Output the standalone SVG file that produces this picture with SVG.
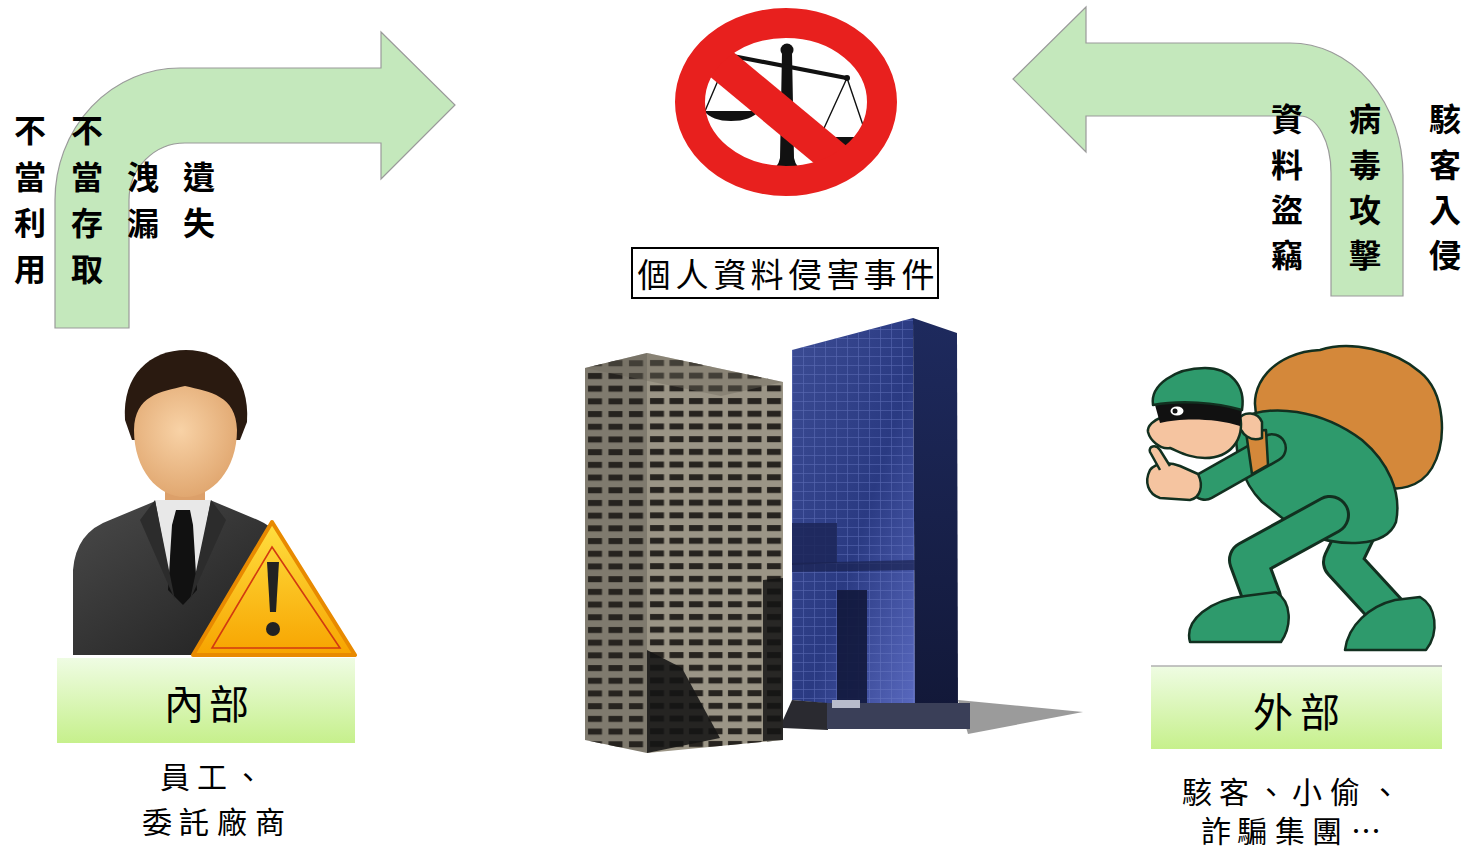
<svg xmlns="http://www.w3.org/2000/svg" width="1466" height="848" viewBox="0 0 1466 848">
  <style>
    .cjk { font-family: 'Noto Sans CJK TC', 'Noto Sans CJK SC', sans-serif; fill: #000; }
    .vcol { font-size: 32px; font-weight: 700; dominant-baseline: central; text-anchor: middle; }
    .cap { font-size: 30px; font-weight: 400; dominant-baseline: central; text-anchor: middle; }
    .big { font-size: 40px; font-weight: 400; dominant-baseline: central; text-anchor: middle; }
    .flow { fill: #c4e8bc; stroke: #9a9a9a; stroke-width: 1.2; }
    .outl { fill: none; stroke: #123020; stroke-linecap: round; stroke-linejoin: round; }
    .grn { fill: none; stroke: #2e9a6c; stroke-linecap: round; stroke-linejoin: round; }
    .ink { stroke: #123020; stroke-width: 2.5; stroke-linejoin: round; }
  </style>
  <defs>
    <linearGradient id="labelFill" x1="0" y1="0" x2="0" y2="1">
      <stop offset="0" stop-color="#effce3"/>
      <stop offset="1" stop-color="#c6f08c"/>
    </linearGradient>
    <linearGradient id="suit" x1="0" y1="0" x2="1" y2="1">
      <stop offset="0" stop-color="#4a4a4a"/>
      <stop offset="1" stop-color="#1e1e1e"/>
    </linearGradient>
    <radialGradient id="skin" cx="0.45" cy="0.4" r="0.65">
      <stop offset="0" stop-color="#f8d2a6"/>
      <stop offset="1" stop-color="#dfa46c"/>
    </radialGradient>
    <linearGradient id="warn" x1="0" y1="0" x2="0" y2="1">
      <stop offset="0" stop-color="#ffdf40"/>
      <stop offset="1" stop-color="#f7a400"/>
    </linearGradient>
    <linearGradient id="blueFront" x1="0" y1="0" x2="1" y2="1">
      <stop offset="0" stop-color="#3c4c94"/>
      <stop offset="0.55" stop-color="#2a3a82"/>
      <stop offset="1" stop-color="#5a6ac0"/>
    </linearGradient>
    <linearGradient id="blueSide" x1="0" y1="0" x2="0" y2="1">
      <stop offset="0" stop-color="#1e2a5e"/>
      <stop offset="1" stop-color="#121838"/>
    </linearGradient>
    <pattern id="winFront" x="647" y="357" width="19.5" height="12.7" patternUnits="userSpaceOnUse">
      <rect x="3" y="3" width="14" height="6" fill="#26231f"/>
    </pattern>
    <pattern id="winSide" x="585" y="370" width="20.5" height="12.7" patternUnits="userSpaceOnUse">
      <rect x="3" y="3" width="14" height="6" fill="#26231f"/>
    </pattern>
    <pattern id="glass" x="792" y="320" width="11" height="9" patternUnits="userSpaceOnUse">
      <path d="M0,0.5 H11 M0.5,0 V9" stroke="#7080c8" stroke-width="0.7" opacity="0.55"/>
    </pattern>
    <clipPath id="ringClip">
      <ellipse cx="786" cy="102" rx="100" ry="83"/>
    </clipPath>
  </defs>

  <rect width="1466" height="848" fill="#ffffff"/>

  <!-- curved flow arrows -->
  <g id="connectors">
    <path class="flow" d="M55,328 L55,200 A125,132 0 0 1 180,68 L381,68 L381,32 L455,105 L381,179 L381,143 L185,143 A56,57 0 0 0 129,200 L129,328 Z"/>
    <path class="flow" d="M1403,296 L1403,175 A113,132 0 0 0 1290,43 L1086,43 L1086,7 L1013,79 L1086,152 L1086,116 L1300,116 A31,57 0 0 1 1331,173 L1331,296 Z"/>
  </g>

  <!-- internal threat labels -->
  <g id="internal-threats" class="cjk vcol">
    <text x="30"><tspan x="30" y="128">不</tspan><tspan x="30" y="175">當</tspan><tspan x="30" y="221">利</tspan><tspan x="30" y="267">用</tspan></text>
    <text x="87"><tspan x="87" y="128">不</tspan><tspan x="87" y="175">當</tspan><tspan x="87" y="221">存</tspan><tspan x="87" y="267">取</tspan></text>
    <text x="143"><tspan x="143" y="175">洩</tspan><tspan x="143" y="221">漏</tspan></text>
    <text x="199"><tspan x="199" y="175">遺</tspan><tspan x="199" y="221">失</tspan></text>
  </g>

  <!-- external threat labels -->
  <g id="external-threats" class="cjk vcol">
    <text x="1287"><tspan x="1287" y="117">資</tspan><tspan x="1287" y="163">料</tspan><tspan x="1287" y="208">盜</tspan><tspan x="1287" y="253">竊</tspan></text>
    <text x="1365"><tspan x="1365" y="117">病</tspan><tspan x="1365" y="163">毒</tspan><tspan x="1365" y="208">攻</tspan><tspan x="1365" y="253">擊</tspan></text>
    <text x="1445"><tspan x="1445" y="117">駭</tspan><tspan x="1445" y="163">客</tspan><tspan x="1445" y="208">入</tspan><tspan x="1445" y="253">侵</tspan></text>
  </g>

  <!-- prohibition sign over scales -->
  <g id="no-justice-sign">
    <g fill="#111">
      <circle cx="787" cy="50" r="6.5"/>
      <path d="M782,52 L792,52 L794,158 Q796,170 808,172 L766,172 Q778,170 780,158 Z"/>
      <path d="M748,185 Q754,172 780,169 L795,169 Q822,172 828,185 Z"/>
      <path d="M728,53 L847,76 L846,80 L727,57 Z"/>
      <circle cx="847" cy="78" r="3"/>
      <path d="M818,137 L869,137 Q861,147 843,147 Q826,147 818,137 Z"/>
      <path d="M704,111 L759,111 Q751,121 731,121 Q712,121 704,111 Z"/>
    </g>
    <g stroke="#111" stroke-width="1.4" fill="none">
      <path d="M847,78 L820,137 M847,78 L867,137"/>
      <path d="M728,57 L705,111 M728,57 L757,111"/>
    </g>
    <line x1="690" y1="38" x2="885" y2="200" stroke="#e8201e" stroke-width="34" clip-path="url(#ringClip)"/>
    <ellipse cx="786" cy="102" rx="96" ry="79" fill="none" stroke="#e8201e" stroke-width="30"/>
  </g>

  <!-- title box -->
  <g id="incident-title">
    <rect x="632" y="248" width="306" height="50" fill="#fff" stroke="#000" stroke-width="2"/>
    <text class="cjk" font-size="33" dominant-baseline="central" text-anchor="middle" x="654 692 730 767 805 843 880 918" y="273">個人資料侵害事件</text>
  </g>

  <!-- office towers -->
  <g id="buildings">
    <polygon points="958,700 1083,712 968,734" fill="#8a8a8a" opacity="0.85"/>
    <!-- grey tower -->
    <polygon points="585,368 647,353 647,753 585,740" fill="#7f7a6e"/>
    <polygon points="585,368 647,353 647,753 585,740" fill="url(#winSide)"/>
    <polygon points="647,353 783,382 783,740 647,753" fill="#9b9586"/>
    <polygon points="647,353 783,382 783,740 647,753" fill="url(#winFront)"/>
    <polygon points="647,650 682,668 720,738 647,753" fill="#141414" opacity="0.88"/>
    <polygon points="763,580 783,578 783,740 763,741" fill="#141414" opacity="0.85"/>
    <polygon points="585,368 647,353 783,382 721,396" fill="#6d685d" opacity="0.4"/>
    <!-- blue tower -->
    <polygon points="792,350 913,318 915,712 792,700" fill="url(#blueFront)"/>
    <polygon points="792,350 913,318 915,712 792,700" fill="url(#glass)"/>
    <polygon points="913,318 957,333 958,710 915,712" fill="url(#blueSide)"/>
    <polygon points="792,523 837,523 837,563 792,565" fill="#1c2658" opacity="0.85"/>
    <polygon points="792,563 915,560 915,570 792,572" fill="#1a2250" opacity="0.7"/>
    <polygon points="837,590 867,590 867,703 837,703" fill="#12183c" opacity="0.9"/>
    <polygon points="792,700 828,703 828,730 783,728 783,720" fill="#2a2a30"/>
    <rect x="827" y="703" width="143" height="26" fill="#3a3f58"/>
    <rect x="832" y="700" width="28" height="8" fill="#b8bccc"/>
  </g>

  <!-- insider figure -->
  <g id="insider">
    <path d="M73,655 L73,570 Q76,532 110,520 L158,500 L210,500 L258,520 Q286,532 292,565 L292,655 Z" fill="url(#suit)"/>
    <rect x="165" y="478" width="40" height="30" fill="#dca06a"/>
    <path d="M155,500 L211,500 L198,570 L183,600 L168,570 Z" fill="#e8e8e8"/>
    <path d="M176,510 L190,510 L193,525 L197,590 L183,605 L168,590 L172,525 Z" fill="#111"/>
    <path d="M155,500 L140,520 L175,600 Z M211,500 L226,520 L190,600 Z" fill="#2c2c2c"/>
    <path d="M125,420 C122,375 150,350 186,350 C222,350 250,375 247,422 L240,440 L132,440 Z" fill="#2a1a10"/>
    <path d="M185,386 C160,392 135,395 134,430 C134,470 158,497 185,497 C212,497 237,470 237,430 C236,395 210,392 185,386 Z" fill="url(#skin)"/>
    <path d="M272,522 L355,655 L193,655 Z" fill="url(#warn)" stroke="#e88a00" stroke-width="4" stroke-linejoin="round"/>
    <path d="M272,547 L340,648 L212,648 Z" fill="none" stroke="#d23a10" stroke-width="1.6"/>
    <path d="M267,562 L279,562 L276,612 L270,612 Z" fill="#222"/>
    <circle cx="273" cy="629" r="7" fill="#222"/>
    <rect x="57" y="658" width="298" height="85" fill="url(#labelFill)"/>
    <text class="cjk big" x="184 229" y="702">內部</text>
  </g>

  <g id="insider-caption" class="cjk cap">
    <text x="175 212 248" y="775">員工、</text>
    <text x="157 194 232 270" y="820">委託廠商</text>
  </g>

  <!-- outsider figure -->
  <g id="outsider">
    <path class="ink" d="M1258,420 C1245,385 1275,352 1320,350 C1350,340 1395,350 1420,372 C1445,392 1448,440 1432,468 C1420,488 1395,492 1385,485 L1300,420 Z" fill="#d4883a"/>
    <!-- far leg -->
    <path class="outl" stroke-width="40" d="M1372,500 L1342,562 L1388,612"/>
    <path class="grn" stroke-width="34" d="M1372,500 L1342,562 L1388,612"/>
    <path class="ink" d="M1345,650 C1348,625 1370,606 1395,600 L1420,597 C1436,606 1440,632 1426,650 Z" fill="#2e9a6c"/>
    <!-- torso -->
    <path class="ink" d="M1238,420 C1270,402 1322,410 1362,440 C1388,462 1402,492 1396,522 C1386,548 1340,548 1300,532 L1262,502 C1242,482 1232,450 1238,420 Z" fill="#2e9a6c"/>
    <!-- near leg -->
    <path class="outl" stroke-width="40" d="M1330,515 L1248,560 L1262,598"/>
    <path class="grn" stroke-width="34" d="M1330,515 L1248,560 L1262,598"/>
    <path class="ink" d="M1190,642 C1184,620 1210,600 1245,596 L1276,592 C1292,602 1292,626 1281,642 Z" fill="#2e9a6c"/>
    <!-- arm -->
    <path class="outl" stroke-width="30" d="M1272,448 L1205,486"/>
    <path class="grn" stroke-width="25" d="M1272,448 L1205,486"/>
    <path class="ink" d="M1150,470 C1156,462 1170,462 1180,466 L1198,474 C1204,486 1200,498 1190,500 L1160,498 C1148,494 1144,482 1150,470 Z" fill="#f5c4a0"/>
    <path class="ink" d="M1160,470 L1150,452 C1148,446 1156,444 1160,450 L1170,466" fill="#f5c4a0"/>
    <!-- sack neck and gripping hand -->
    <path class="ink" d="M1246,432 L1266,430 L1268,465 L1252,474 Z" fill="#d4883a"/>
    <path class="ink" d="M1238,420 C1244,410 1258,412 1262,422 L1262,438 C1252,442 1240,436 1238,420 Z" fill="#f5c4a0"/>
    <!-- head -->
    <path class="ink" d="M1160,410 C1168,400 1235,398 1240,415 C1245,440 1230,458 1205,458 C1190,458 1180,452 1170,448 C1160,450 1150,440 1148,432 C1147,425 1155,420 1160,418 Z" fill="#f5c4a0"/>
    <path d="M1155,405 C1180,398 1225,400 1242,410 L1240,426 C1215,418 1180,418 1160,423 Z" fill="#111"/>
    <ellipse cx="1177" cy="411" rx="6.5" ry="4.5" fill="#fff"/>
    <circle cx="1175" cy="411" r="2.5" fill="#111"/>
    <path class="ink" d="M1153,405 C1150,385 1175,368 1205,368 C1230,368 1246,385 1242,410 C1215,402 1180,400 1153,405 Z" fill="#2e9a6c"/>
    <rect x="1151" y="666" width="291" height="83" fill="url(#labelFill)"/>
    <line x1="1151" y1="666" x2="1442" y2="666" stroke="#b0b0b0" stroke-width="1.5"/>
    <text class="cjk big" x="1273 1320" y="710">外部</text>
  </g>

  <g id="outsider-caption" class="cjk cap">
    <text x="1197 1234 1271 1307 1345 1385" y="790">駭客、小偷、</text>
    <text x="1216 1252 1290 1327 1366" y="829">詐騙集團…</text>
  </g>
</svg>
